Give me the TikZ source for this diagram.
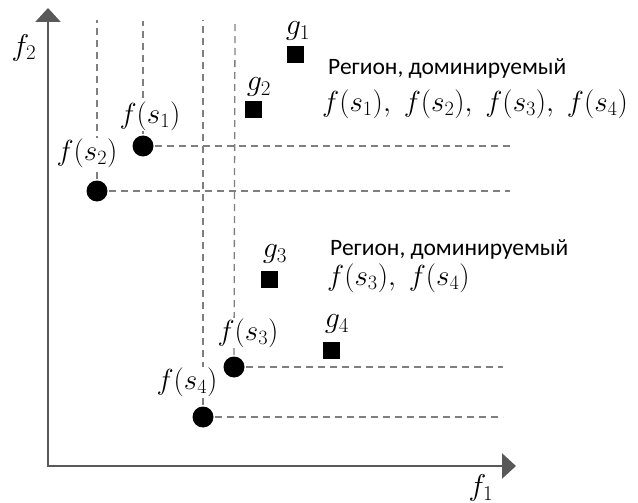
\RequirePackage{fix-cm}
\documentclass[tikz,border=0pt]{standalone}
\usepackage{fontspec}
\newfontfamily\rufont{Carlito}
\usetikzlibrary{arrows.meta,backgrounds}
\definecolor{axisgray}{HTML}{595959}
\definecolor{dashgray}{HTML}{7F7F7F}
\begin{document}
\begin{tikzpicture}[x=1pt,y=-1pt,
  dot/.style={circle,fill=black,minimum size=21pt,inner sep=0pt},
  sq/.style={rectangle,fill=black,minimum size=17pt,inner sep=0pt},
  flab/.style={fill=white,inner sep=0.5pt,font=\fontsize{29}{32}\selectfont},
  glab/.style={inner sep=0pt,font=\fontsize{30}{33}\selectfont},
  rutext/.style={inner sep=0pt,anchor=base west,font=\rufont\fontsize{23.5}{27}\selectfont},
  mtext/.style={inner sep=0pt,anchor=west,font=\fontsize{29}{32}\selectfont},
  dline/.style={draw=dashgray,line width=1.3pt,dash pattern=on 7pt off 5pt},
  axisline/.style={draw=axisgray,line width=2.6pt,{Triangle[length=14pt,width=25pt]}-{Triangle[length=14pt,width=25pt]}}]
\useasboundingbox (0,0) rectangle (638,503);
% axes
\coordinate (O) at (48,466);
\coordinate (Ytop) at (48,8);
\coordinate (Xend) at (516,466);
\draw[axisline] (Ytop) -- (O) -- (Xend);
\node[glab] (f2) at (24,48) {$f_2$};
\node[glab] (f1) at (481,488) {$f_1$};
% points
\node[dot] (s1) at (143,146) {};
\node[dot] (s2) at (97,191) {};
\node[dot] (s3) at (234,367) {};
\node[dot] (s4) at (203,417) {};
\node[sq] (g1) at (295,55) {};
\node[sq] (g2) at (253,110) {};
\node[sq] (g3) at (269,279) {};
\node[sq] (g4) at (331,350) {};
% labels
\node[flab] (l1) at (150,116) {$f(s_1)$};
\node[flab] (l2) at (87,153) {$f(s_2)$};
\node[flab] (l3) at (248,333) {$f(s_3)$};
\node[flab] (l4) at (187,382) {$f(s_4)$};
\node[glab] (lg1) at (298,31) {$g_1$};
\node[glab] (lg2) at (259,87) {$g_2$};
\node[glab] (lg3) at (275,254) {$g_3$};
\node[glab] (lg4) at (337,324) {$g_4$};
% region texts
\node[rutext] (r1) at (328,75) {Регион, доминируемый};
\node[mtext] (m1) at (322,104) {$f(s_1),\;f(s_2),\;f(s_3),\;f(s_4)$};
\node[rutext] (r2) at (330,255) {Регион, доминируемый};
\node[mtext] (m2) at (327,278) {$f(s_3),\;f(s_4)$};
% dashed guides
\coordinate (t1) at (143,21);
\coordinate (t2) at (97,20);
\coordinate (t3) at (235,20);
\coordinate (t4) at (203,20);
\coordinate (e1) at (510,146);
\coordinate (e2) at (510,191);
\coordinate (e3) at (503,367);
\coordinate (e4) at (503,417);
\begin{pgfonlayer}{background}
\draw[dline] (s1.center) -- (t1);
\draw[dline] (s2.center) -- (t2);
\draw[dline] (s3.center) -- (t3);
\draw[dline] (s4.center) -- (t4);
\draw[dline] (s1.center) -- (e1);
\draw[dline] (s2.center) -- (e2);
\draw[dline] (s3.center) -- (e3);
\draw[dline] (s4.center) -- (e4);
\end{pgfonlayer}
\end{tikzpicture}
\end{document}
